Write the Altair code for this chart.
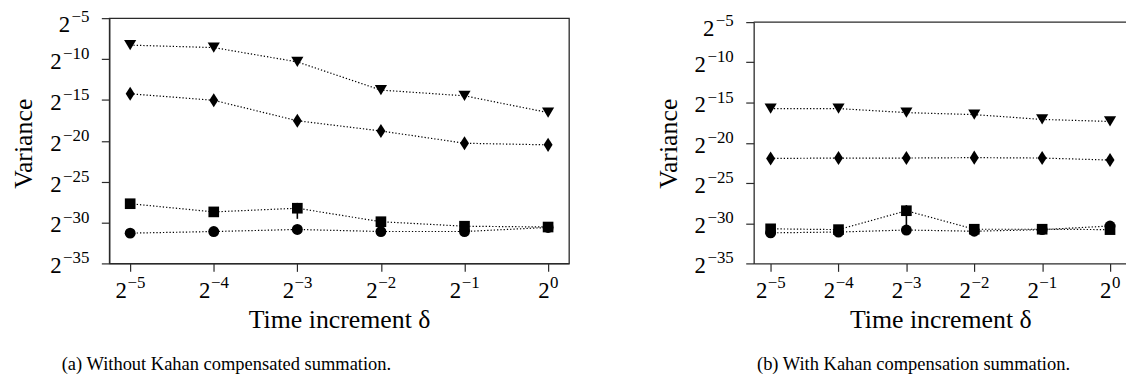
import altair as alt
import pandas as pd

# ---------------- data ----------------
x_exp = [-5, -4, -3, -2, -1, 0]          # log2 of time increment
series = ["circle", "square", "diamond", "triangle"]

# (a) without Kahan compensated summation (log2 variance)
a_circle = [-31.3, -31.1, -30.85, -31.1, -31.1, -30.6]
a_square = [-27.7, -28.7, -28.25, -29.9, -30.45, -30.55]
a_diamond = [-14.25, -15.05, -17.55, -18.8, -20.3, -20.5]
a_triangle = [-8.3, -8.6, -10.35, -13.8, -14.5, -16.55]
a_err_x = [-3]
a_err_lo = [-29.55]
a_err_hi = [-27.6]

# (b) with Kahan compensation summation
b_circle = [-31.2, -31.1, -30.85, -31.0, -30.8, -30.35]
b_square = [-30.7, -30.8, -28.45, -30.75, -30.75, -30.8]
b_diamond = [-21.95, -21.9, -21.9, -21.85, -21.9, -22.15]
b_triangle = [-15.75, -15.75, -16.25, -16.5, -17.1, -17.35]
b_err_x = [-3]
b_err_lo = [-30.8]
b_err_hi = [-27.75]

x_tick_exps = [-5, -4, -3, -2, -1, 0]
x_tick_sups = ["−5", "−4", "−3", "−2", "−1", "0"]
y_tick_exps = [-35, -30, -25, -20, -15, -10, -5]
y_tick_sups = ["−35", "−30", "−25", "−20", "−15", "−10", "−5"]

x_title = "Time increment δ"
y_title = "Variance"
captions = ["(a) Without Kahan compensated summation.",
            "(b) With Kahan compensation summation."]

# ---------------- style ----------------
FONT = "Liberation Serif"
AX = "#2a2a2a"
DIAMOND = "M0,-1L0.64,0L0,1L-0.64,0Z"
TRI_DOWN = "M-1,-0.85L1,-0.85L0,0.85Z"
H = 247


def panel(vals, ex, elo, ehi, width, yrange, caption, cap_x, box):
    rows = []
    for name, v in zip(series, vals):
        for xi, vi in zip(x_exp, v):
            rows.append({"x": xi, "v": vi, "s": name})
    pts = pd.DataFrame(rows)
    err = pd.DataFrame({"x": ex, "lo": elo, "hi": ehi})
    xt = pd.DataFrame({"x": x_tick_exps, "sup": x_tick_sups})
    yt = pd.DataFrame({"v": y_tick_exps, "sup": y_tick_sups})

    xs = alt.Scale(domain=[-5.25, 0.25], nice=False, zero=False)
    ys = alt.Scale(domain=[-35, -5], nice=False, zero=False, range=yrange)
    x_axis = alt.Axis(values=x_tick_exps, labels=False, tickSize=8, grid=False,
                      domainColor=AX, tickColor=AX, domainWidth=1.3, tickWidth=1.2,
                      title=x_title, titleFont=FONT, titleFontSize=26,
                      titleFontWeight="normal", titleColor="black",
                      titleX=width / 2, titleY=65, titleBaseline="alphabetic",
                      titleAlign="center")
    y_axis = alt.Axis(values=y_tick_exps, labels=False, tickSize=8, grid=False,
                      domainColor=AX, tickColor=AX, domainWidth=1.3, tickWidth=1.2,
                      title=y_title, titleFont=FONT, titleFontSize=26,
                      titleFontWeight="normal", titleColor="black",
                      titleAngle=270, titleX=-78, titleY=126,
                      titleBaseline="alphabetic", titleAlign="center")
    X = lambda f="x": alt.X(f + ":Q", scale=xs, axis=x_axis)
    Y = lambda f="v": alt.Y(f + ":Q", scale=ys, axis=y_axis)

    lines = alt.Chart(pts).mark_line(color="black", strokeWidth=1.2,
                                     strokeDash=[1.3, 2.0]).encode(
        x=X(), y=Y(), detail="s:N", order="x:Q")
    errs = alt.Chart(err).mark_rule(color="black", strokeWidth=1.6).encode(
        x=X(), y=Y("lo"), y2="hi:Q")
    points = alt.Chart(pts).mark_point(filled=True, opacity=1, color="black",
                                       strokeWidth=0).encode(
        x=X(), y=Y(),
        shape=alt.Shape("s:N", scale=alt.Scale(domain=series,
                        range=["circle", "square", DIAMOND, TRI_DOWN]), legend=None),
        size=alt.Size("s:N", scale=alt.Scale(type="ordinal", domain=series,
                                             range=[121, 115, 200, 150]),
                      legend=None))

    txt = dict(font=FONT, color="black", baseline="alphabetic")
    # x tick labels 2^k
    xneg = alt.Chart(xt).transform_filter("length(datum.sup) > 1")
    xzero = alt.Chart(xt).transform_filter("length(datum.sup) == 1")
    xl = [
        xneg.mark_text(fontSize=23, align="right", dx=-3.3, **txt).encode(
            x=X(), y=alt.value(H + 35), text=alt.value("2")),
        xneg.mark_text(fontSize=17, align="left", dx=-2.8, **txt).encode(
            x=X(), y=alt.value(H + 25), text="sup:N"),
        xzero.mark_text(fontSize=23, align="right", dx=1.5, **txt).encode(
            x=X(), y=alt.value(H + 35), text=alt.value("2")),
        xzero.mark_text(fontSize=17, align="left", dx=2.0, **txt).encode(
            x=X(), y=alt.value(H + 25), text="sup:N"),
    ]
    ylong = alt.Chart(yt).transform_filter("length(datum.sup) > 2")
    yshort = alt.Chart(yt).transform_filter("length(datum.sup) <= 2")
    yl = [
        ylong.mark_text(fontSize=23, align="right", dy=10, **txt).encode(
            x=alt.value(-48), y=Y(), text=alt.value("2")),
        ylong.mark_text(fontSize=17, align="right", dy=0, **txt).encode(
            x=alt.value(-20), y=Y(), text="sup:N"),
        yshort.mark_text(fontSize=23, align="right", dy=14, **txt).encode(
            x=alt.value(-39.5), y=Y(), text=alt.value("2")),
        yshort.mark_text(fontSize=17, align="right", dy=4, **txt).encode(
            x=alt.value(-20), y=Y(), text="sup:N"),
    ]
    cap = alt.Chart(pd.DataFrame({"c": [caption]})).mark_text(
        fontSize=18.6, align="center", **txt).encode(
        x=alt.value(cap_x), y=alt.value(354), text="c:N")

    layers = [lines, errs, points] + xl + yl + [cap]
    if not box:
        top = alt.Chart(pd.DataFrame({"v": [y_tick_exps[-1]]})).mark_rule(
            color=AX, strokeWidth=1.3).encode(
            y=Y(), x=alt.value(0), x2=alt.value(width + 2))
        layers.append(top)
    ch = alt.layer(*layers).properties(width=width, height=H)
    if box:
        ch = ch.properties(view=alt.ViewBackground(stroke=AX, strokeWidth=1.3))
    else:
        ch = ch.properties(view=alt.ViewBackground(stroke=None))
    return ch


left = panel([a_circle, a_square, a_diamond, a_triangle], a_err_x, a_err_lo, a_err_hi,
             463, [H, 0], captions[0], 118, True)
right = panel([b_circle, b_square, b_diamond, b_triangle], b_err_x, b_err_lo, b_err_hi,
              376, [H, 4], captions[1], 161, False)

chart = alt.hconcat(left, right, spacing=186, bounds="flush").properties(
    autosize=alt.AutoSizeParams(type="none"),
    padding={"left": 102, "top": 8, "right": 1024, "bottom": 368},
).configure_view(stroke=None)

chart.save("out.html", embed_options={"renderer": "svg", "actions": False})
